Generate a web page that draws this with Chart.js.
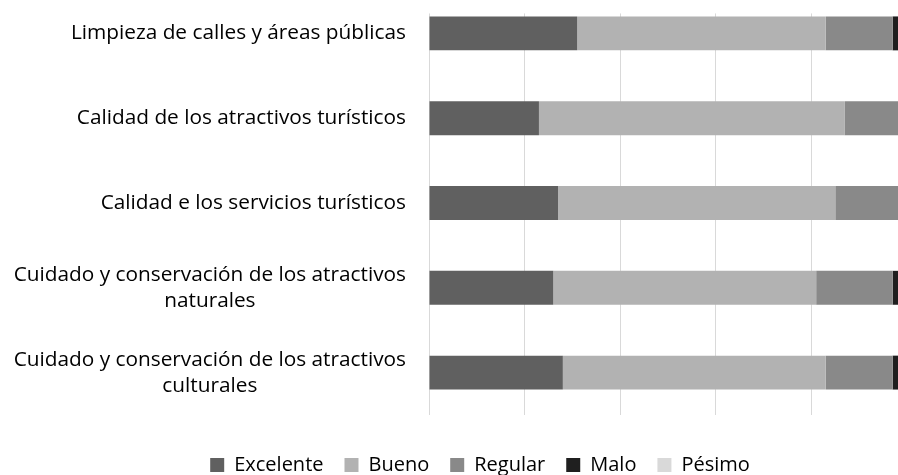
<!DOCTYPE html>
<html>
<head>
<meta charset="utf-8">
<title>Valoración</title>
<script src="https://cdn.jsdelivr.net/npm/chart.js@4.4.1/dist/chart.umd.min.js"></script>
<style>
  html, body { margin: 0; padding: 0; background: #fff; overflow: hidden; }
  #wrap { position: absolute; left: 0; top: -20px; }
</style>
</head>
<body>
<div id="wrap"><canvas id="chart" width="960" height="505"></canvas></div>
<script>
const categories = [
    'Limpieza de calles y áreas públicas',
    'Calidad de los atractivos turísticos',
    'Calidad e los servicios turísticos',
    ['Cuidado y conservación de los atractivos', 'naturales'],
    ['Cuidado y conservación de los atractivos', 'culturales']
];

const excelente = [31, 23, 27, 26, 28];
const bueno     = [52, 64, 58, 55, 55];
const regular   = [14, 13, 15, 16, 14];
const malo      = [3, 0, 0, 3, 3];
const pesimo    = [0, 0, 0, 0, 0];

const xTicks = [0, 20, 40, 60, 80, 100];

const FONT = '"Open Sans", Lato, sans-serif';

// gridlines in the original start just above the first bar
const gridTopTrim = {
    id: 'gridTopTrim',
    beforeDatasetsDraw(chart) {
        const bar = chart.getDatasetMeta(0).data[0];
        if (!bar) return;
        const top = bar.y - bar.height / 2 - 3;
        const area = chart.chartArea;
        const ctx = chart.ctx;
        ctx.save();
        ctx.fillStyle = '#ffffff';
        ctx.fillRect(area.left - 2, 0, area.right - area.left + 4, top);
        ctx.restore();
    }
};

// wrapped labels: block stays right-aligned, lines centred inside it (like Excel)
const centerWrappedLabels = {
    id: 'centerWrappedLabels',
    beforeDraw(chart) {
        const scale = chart.scales.y;
        const ctx = chart.ctx;
        scale.getLabelItems().forEach(item => {
            if (!Array.isArray(item.label) || item.options.textAlign === 'center') return;
            ctx.save();
            ctx.font = item.font.string;
            const w = Math.max(...item.label.map(t => ctx.measureText(t).width));
            ctx.restore();
            item.options.textAlign = 'center';
            item.options.translation[0] -= w / 2;
        });
    }
};

function series(label, data, color) {
    return {
        label: label,
        data: data,
        backgroundColor: color,
        borderWidth: 0,
        barPercentage: 0.4,
        categoryPercentage: 1
    };
}

new Chart(document.getElementById('chart'), {
    type: 'bar',
    data: {
        labels: categories,
        datasets: [
            series('Excelente', excelente, '#606060'),
            series('Bueno', bueno, '#b2b2b2'),
            series('Regular', regular, '#898989'),
            series('Malo', malo, '#1f1f1f'),
            series('Pésimo', pesimo, '#d9d9d9')
        ]
    },
    plugins: [gridTopTrim, centerWrappedLabels],
    options: {
        indexAxis: 'y',
        responsive: false,
        animation: false,
        layout: { padding: { top: 11, left: 0, right: 0, bottom: 0 } },
        plugins: {
            tooltip: { enabled: false },
            legend: {
                position: 'bottom',
                labels: {
                    color: '#000',
                    boxWidth: 14,
                    boxHeight: 14,
                    padding: 21,
                    font: { family: FONT, size: 20 }
                }
            }
        },
        scales: {
            x: {
                stacked: true,
                min: 0,
                max: 100,
                afterBuildTicks: s => { s.ticks = xTicks.map(v => ({ value: v })); },
                ticks: { display: false },
                grid: { color: '#d9d9d9', lineWidth: 1, drawTicks: false },
                border: { display: false },
                afterFit: s => { s.height = 19; }
            },
            y: {
                stacked: true,
                ticks: {
                    color: '#000',
                    padding: 23,
                    autoSkip: false,
                    font: { family: FONT, size: 20.8, lineHeight: 1.25 }
                },
                grid: { display: false, drawTicks: false },
                border: { display: false },
                afterFit: s => {
                    s.width = 429;
                    s.paddingTop = 0;
                    s.paddingBottom = 0;
                }
            },
            yRight: {
                type: 'category',
                position: 'right',
                labels: categories,
                ticks: { display: false },
                grid: { display: false, drawTicks: false },
                border: { display: false },
                afterFit: s => { s.width = 53; }
            }
        }
    }
});
</script>
</body>
</html>
